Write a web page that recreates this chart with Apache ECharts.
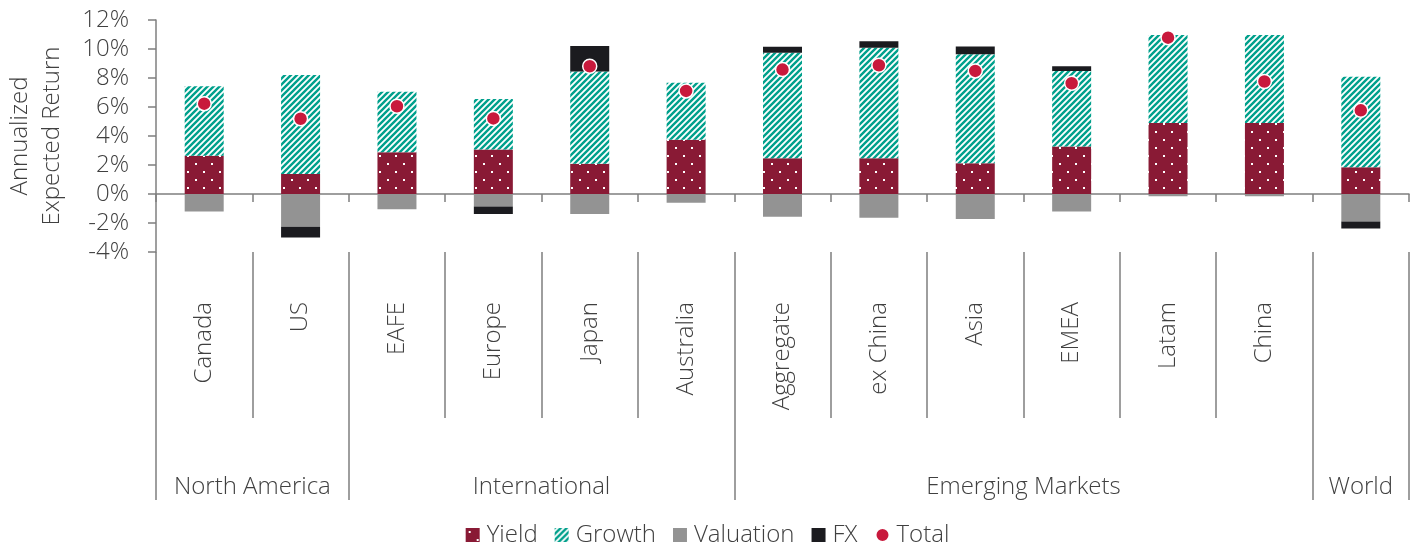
<!DOCTYPE html>
<html>
<head>
<meta charset="utf-8">
<script src="https://cdn.jsdelivr.net/npm/echarts@6/dist/echarts.min.js"></script>
<style>
  html, body { margin: 0; padding: 0; background: #ffffff; }
  #chart { width: 1415px; height: 546px; }
</style>
</head>
<body>
<div id="chart"></div>
<script>
// Regions and their parent groups
const categories = ['Canada', 'US', 'EAFE', 'Europe', 'Japan', 'Australia',
  'Aggregate', 'ex China', 'Asia', 'EMEA', 'Latam', 'China', 'World'];
const groups = ['North America', 'International', 'Emerging Markets', 'World'];
const groupSizes = [2, 4, 6, 1];

// Return components, % per year
const yieldVals     = [2.63, 1.38, 2.88, 3.07, 2.08, 3.74, 2.47, 2.47, 2.12, 3.28, 4.89, 4.89, 1.85];
const growthVals    = [4.80, 6.83, 4.18, 3.48, 6.37, 3.94, 7.27, 7.62, 7.51, 5.21, 6.07, 6.07, 6.23];
const valuationVals = [-1.20, -2.26, -1.06, -0.86, -1.38, -0.60, -1.57, -1.64, -1.73, -1.20, -0.15, -0.15, -1.90];
const fxVals        = [null, -0.74, null, -0.52, 1.75, null, 0.42, 0.44, 0.55, 0.32, null, null, -0.48];
const totalVals     = [6.23, 5.19, 6.05, 5.21, 8.81, 7.11, 8.58, 8.88, 8.49, 7.64, 10.78, 7.76, 5.77];

// Value axis range
const yMin = -4, yMax = 12, yStep = 2;

const FONT = '"Open Sans", Lato, sans-serif';
const FW = 300;
const FS = 24;
const TEXT = '#404040';
const AXIS = '#7f7f7f';
const C_YIELD = '#891a35';
const C_GROWTH = '#00a08c';
const C_VAL = '#939393';
const C_FX = '#1b1b1f';
const C_TOTAL = '#c8193c';

// Fill patterns: dotted dark red and teal diagonal hatching
function dotTile(bg, dot) {
  const c = document.createElement('canvas');
  c.width = 16; c.height = 16;
  const g = c.getContext('2d');
  g.fillStyle = bg; g.fillRect(0, 0, 16, 16);
  g.fillStyle = dot;
  g.fillRect(3, 3, 2, 2);
  g.fillRect(11, 11, 2, 2);
  return c;
}
function stripeTile(fg) {
  const s = 6;
  const c = document.createElement('canvas');
  c.width = s; c.height = s;
  const g = c.getContext('2d');
  g.fillStyle = '#ffffff'; g.fillRect(0, 0, s, s);
  g.strokeStyle = fg; g.lineWidth = 2.4; g.lineCap = 'square';
  g.beginPath();
  g.moveTo(0, s); g.lineTo(s, 0);
  g.moveTo(-s / 2, s / 2); g.lineTo(s / 2, -s / 2);
  g.moveTo(s / 2, s * 1.5); g.lineTo(s * 1.5, s / 2);
  g.stroke();
  return c;
}
const yieldFill = { image: dotTile(C_YIELD, '#ffffff'), repeat: 'repeat' };
const growthFill = { image: stripeTile(C_GROWTH), repeat: 'repeat' };

// Group boundaries (in category units) and group label centres
const bounds = [0];
groupSizes.forEach(n => bounds.push(bounds[bounds.length - 1] + n));
const groupCentres = groups.map((g, i) => (bounds[i] + bounds[i + 1]) / 2);
// Single-region groups carry their name on the group row only
const soloRegions = groups.filter((g, i) => groupSizes[i] === 1);

const chart = echarts.init(document.getElementById('chart'), null, { renderer: 'canvas' });

const barBase = { type: 'bar', stack: 'ret', barWidth: 39, xAxisIndex: 0 };

chart.setOption({
  animation: false,
  textStyle: { fontFamily: FONT, color: TEXT },
  grid: { left: 156, right: 6, top: 20, bottom: 294, containLabel: false, outerBoundsMode: 'none' },
  xAxis: [
    {
      type: 'category', data: categories, position: 'bottom',
      axisLine: { show: true, onZero: true, lineStyle: { color: AXIS, width: 1.5 } },
      axisTick: { show: true, interval: 0, length: 8, lineStyle: { color: AXIS, width: 1.5 } },
      axisLabel: { show: false }
    },
    {
      type: 'category', data: categories, position: 'bottom',
      axisLine: { show: false, onZero: false },
      axisTick: { show: true, interval: 0, length: 166, lineStyle: { color: AXIS, width: 1.5 } },
      axisLabel: {
        interval: 0, rotate: 90, margin: 50, fontSize: FS, fontFamily: FONT, fontWeight: FW, color: TEXT,
        formatter: v => (soloRegions.indexOf(v) >= 0 ? '' : v)
      }
    },
    {
      type: 'value', min: 0, max: bounds[bounds.length - 1], position: 'bottom',
      axisLine: { show: false, onZero: false },
      splitLine: { show: false },
      axisTick: { show: true, customValues: bounds, length: 248, lineStyle: { color: AXIS, width: 1.5 } },
      axisLabel: {
        customValues: groupCentres, margin: 223, fontSize: FS, fontFamily: FONT, fontWeight: FW, color: TEXT,
        formatter: v => groups[groupCentres.indexOf(v)]
      }
    }
  ],
  yAxis: {
    type: 'value', min: yMin, max: yMax, interval: yStep,
    name: 'Annualized\nExpected Return', nameLocation: 'middle', nameRotate: 90, nameGap: 88,
    nameTextStyle: { fontSize: FS, lineHeight: 32, fontFamily: FONT, fontWeight: FW, color: TEXT, align: 'center' },
    axisLine: { show: true, lineStyle: { color: AXIS, width: 1.5 } },
    axisTick: { show: true, length: 8, lineStyle: { color: AXIS, width: 1.5 } },
    splitLine: { show: false },
    axisLabel: { formatter: '{value}%', margin: 27, fontSize: FS, fontFamily: FONT, fontWeight: FW, color: TEXT }
  },
  legend: {
    top: 518, left: 'center', itemWidth: 14, itemHeight: 14, itemGap: 17,
    textStyle: { fontSize: FS, fontFamily: FONT, fontWeight: FW, color: TEXT, padding: [0, 0, 0, 2] },
    data: [
      { name: 'Yield', icon: 'rect' },
      { name: 'Growth', icon: 'rect' },
      { name: 'Valuation', icon: 'rect' },
      { name: 'FX', icon: 'rect' },
      { name: 'Total', icon: 'circle' }
    ]
  },
  series: [
    Object.assign({ name: 'Yield', data: yieldVals, itemStyle: { color: yieldFill } }, barBase),
    Object.assign({ name: 'Growth', data: growthVals, itemStyle: { color: growthFill } }, barBase),
    Object.assign({ name: 'Valuation', data: valuationVals, itemStyle: { color: C_VAL } }, barBase),
    Object.assign({ name: 'FX', data: fxVals, itemStyle: { color: C_FX } }, barBase),
    {
      name: 'Total', type: 'scatter', data: totalVals, xAxisIndex: 0, z: 5,
      symbol: 'circle', symbolSize: 14,
      itemStyle: { color: C_TOTAL, borderColor: '#ffffff', borderWidth: 1.5, opacity: 1 }
    }
  ]
});
</script>
</body>
</html>
